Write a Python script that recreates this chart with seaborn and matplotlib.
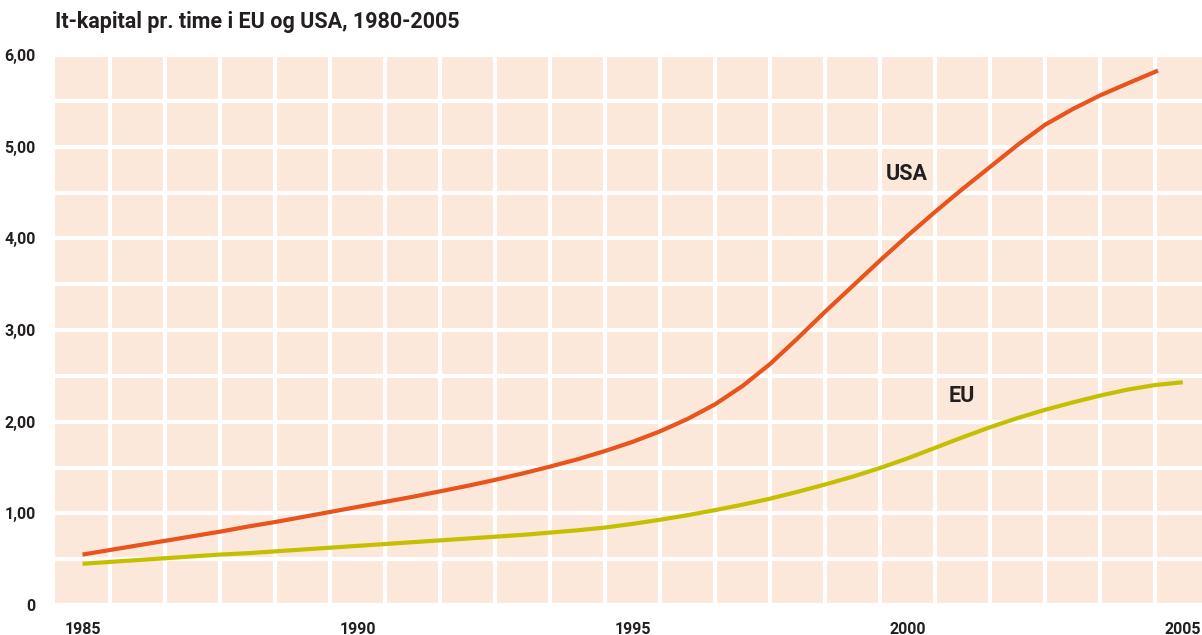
import numpy as np
import pandas as pd
import matplotlib
matplotlib.use("Agg")
from matplotlib import pyplot as plt
from matplotlib.ticker import MultipleLocator, FixedLocator, FuncFormatter
import seaborn as sns

# values at half-year steps (USA line stops in mid 2004)
usa_years = [1985, 1985.5, 1986, 1986.5, 1987, 1987.5, 1988, 1988.5, 1989, 1989.5,
             1990, 1990.5, 1991, 1991.5, 1992, 1992.5, 1993, 1993.5, 1994, 1994.5,
             1995, 1995.5, 1996, 1996.5, 1997, 1997.5, 1998, 1998.5, 1999, 1999.5,
             2000, 2000.5, 2001, 2001.5, 2002, 2002.5, 2003, 2003.5, 2004, 2004.55]
usa_values = [0.55, 0.60, 0.65, 0.70, 0.75, 0.80, 0.855, 0.905, 0.96, 1.015,
              1.07, 1.125, 1.18, 1.24, 1.30, 1.365, 1.435, 1.51, 1.59, 1.68,
              1.78, 1.895, 2.03, 2.19, 2.39, 2.63, 2.91, 3.20, 3.48, 3.76,
              4.03, 4.29, 4.54, 4.78, 5.02, 5.24, 5.41, 5.56, 5.69, 5.83]

eu_years = [1985, 1985.5, 1986, 1986.5, 1987, 1987.5, 1988, 1988.5, 1989, 1989.5,
            1990, 1990.5, 1991, 1991.5, 1992, 1992.5, 1993, 1993.5, 1994, 1994.5,
            1995, 1995.5, 1996, 1996.5, 1997, 1997.5, 1998, 1998.5, 1999, 1999.5,
            2000, 2000.5, 2001, 2001.5, 2002, 2002.5, 2003, 2003.5, 2004, 2004.5, 2005]
eu_values = [0.45, 0.47, 0.49, 0.51, 0.53, 0.55, 0.565, 0.585, 0.605, 0.625,
             0.645, 0.665, 0.685, 0.705, 0.725, 0.745, 0.765, 0.79, 0.815, 0.845,
             0.885, 0.93, 0.98, 1.035, 1.095, 1.16, 1.235, 1.315, 1.40, 1.495,
             1.60, 1.715, 1.83, 1.94, 2.04, 2.13, 2.21, 2.285, 2.35, 2.40, 2.43]

year_ticks = [1985, 1990, 1995, 2000, 2005]
value_ticks = [0, 1, 2, 3, 4, 5, 6]

df = pd.concat([
    pd.DataFrame({"year": usa_years, "value": usa_values, "region": "USA"}),
    pd.DataFrame({"year": eu_years, "value": eu_values, "region": "EU"}),
])

sns.set_theme(style="white")
plt.rcParams['font.family'] = ['Roboto', 'DejaVu Sans']

text_col = "#231F20"
fig = plt.figure(figsize=(12.02, 6.35), dpi=100)
ax = fig.add_axes([55 / 1202, 30 / 635, 1147 / 1202, 550 / 635])
ax.set_facecolor("#FBE8DA")

sns.lineplot(data=df, x="year", y="value", hue="region",
             palette={"USA": "#E8541B", "EU": "#C4BF00"},
             linewidth=3.0, legend=False, ax=ax, sort=True)
for line in ax.lines:
    line.set_solid_capstyle("butt")
    line.set_solid_joinstyle("round")

ax.set_xlim(1984.5, 2005.35)
ax.set_ylim(0, 6)

ax.xaxis.set_major_locator(FixedLocator(year_ticks))
ax.xaxis.set_minor_locator(FixedLocator(np.arange(1985.5, 2005, 1.0)))
ax.yaxis.set_major_locator(FixedLocator(value_ticks))
ax.yaxis.set_minor_locator(MultipleLocator(0.5))
ax.yaxis.set_major_formatter(FuncFormatter(lambda v, p: "0" if v == 0 else f"{v:.2f}".replace(".", ",")))

ax.grid(False)
ax.grid(True, which="minor", axis="x", color="white", linewidth=3)
ax.grid(True, which="both", axis="y", color="white", linewidth=3)
ax.set_axisbelow(True)

ax.tick_params(axis="both", which="both", length=0)
ax.tick_params(axis="y", pad=14, labelsize=11.5, labelcolor=text_col)
ax.tick_params(axis="x", pad=12, labelsize=11.5, labelcolor=text_col)
for lab in ax.get_xticklabels() + ax.get_yticklabels():
    lab.set_fontweight("bold")

for s in ax.spines.values():
    s.set_visible(False)
ax.set_xlabel("")
ax.set_ylabel("")

ax.text(1999.98, 4.7, "USA", fontsize=15.5, fontweight="bold", color=text_col,
        ha="center", va="center")
ax.text(2000.98, 2.28, "EU", fontsize=15.5, fontweight="bold", color=text_col,
        ha="center", va="center")

fig.text(55 / 1202, 1 - 22 / 635, "It-kapital pr. time i EU og USA, 1980-2005",
         fontsize=15.5, fontweight="bold", color=text_col, ha="left", va="center")

fig.savefig("out.png", dpi=100, facecolor="white")
